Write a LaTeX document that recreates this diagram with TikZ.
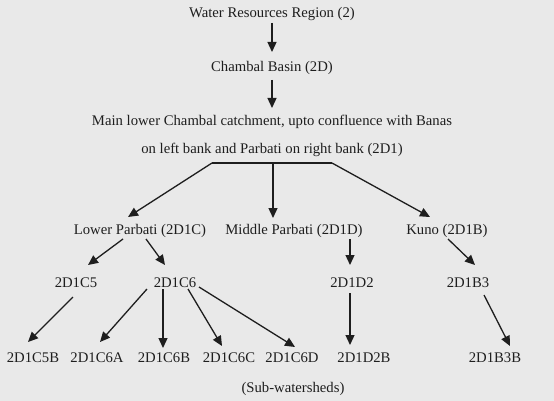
\documentclass[tikz,border=0pt]{standalone}
\usepackage{fontspec}
\setmainfont{Liberation Serif}
\usetikzlibrary{arrows.meta, positioning}

\definecolor{paper}{HTML}{E9E9E9}
\definecolor{ink}{HTML}{1E1E1E}

\begin{document}
\begin{tikzpicture}[x=1pt, y=-1pt, >={Triangle[length=10pt,width=9pt]}, line width=1.3pt, draw=ink,
  lbl/.style={font=\fontsize{14.7}{17}\selectfont, text=ink, inner sep=0pt}]
  % Hintergrund (Papier)
  \fill[paper] (0,0) rectangle (554,401);
  \useasboundingbox (0,0) rectangle (554,401);

  % Obere Ebenen
  \node[lbl] (wrr) at (272,14) {Water Resources Region (2)};
  \node[lbl] (basin) at (272,68) {Chambal Basin (2D)};
  \node[lbl, align=center] (main) at (272,136) {Main lower Chambal catchment, upto confluence with Banas\\[11pt]
    on left bank and Parbati on right bank (2D1)};
  \draw[->] ([shift={(0,9)}]wrr.center) -- ([shift={(0,-16)}]basin.center);
  \draw[->] ([shift={(0,12)}]basin.center) -- ([shift={(0,-28)}]main.center);

  % Zweite Ebene
  \node[lbl] (lower) at (140,231) {Lower Parbati (2D1C)};
  \node[lbl] (middle) at (294,231) {Middle Parbati (2D1D)};
  \node[lbl] (kuno) at (447,231) {Kuno (2D1B)};

  % Verzweigung unter dem Hauptknoten
  \coordinate (bl) at (212,163);
  \coordinate (bm) at (273,163);
  \coordinate (br) at (332,163);
  \draw (bl) -- (br);
  \draw[->] (bl) -- ([shift={(-12,-14)}]lower.center);
  \draw[->] (bm) -- (bm |- 0,218);
  \draw[->] (br) -- ([shift={(-17,-14)}]kuno.center);

  % Dritte Ebene
  \node[lbl] (c5) at (76,283) {2D1C5};
  \node[lbl] (c6) at (175,283) {2D1C6};
  \node[lbl] (d2) at (352,283) {2D1D2};
  \node[lbl] (b3) at (468,283) {2D1B3};
  \draw[->] ([shift={(-17,8)}]lower.center) -- ([shift={(12,-18)}]c5.center);
  \draw[->] ([shift={(6,8)}]lower.center) -- ([shift={(-10,-18)}]c6.center);
  \draw[->] ([shift={(56,8)}]middle.center) -- ([shift={(-2,-18)}]d2.center);
  \draw[->] ([shift={(1,8)}]kuno.center) -- ([shift={(7,-18)}]b3.center);

  % Sub-watersheds
  \node[lbl] (c5b) at (33,358) {2D1C5B};
  \node[lbl] (c6a) at (97,358) {2D1C6A};
  \node[lbl] (c6b) at (164,358) {2D1C6B};
  \node[lbl] (c6c) at (229,358) {2D1C6C};
  \node[lbl] (c6d) at (292,358) {2D1C6D};
  \node[lbl] (d2b) at (364,358) {2D1D2B};
  \node[lbl] (b3b) at (495,358) {2D1B3B};
  \draw[->] ([shift={(-3,14)}]c5.center) -- ([shift={(-5,-16)}]c5b.center);
  \draw[->] ([shift={(-28,6)}]c6.center) -- ([shift={(3,-16)}]c6a.center);
  \draw[->] ([shift={(-12,6)}]c6.center) -- ([shift={(-1,-10)}]c6b.center);
  \draw[->] ([shift={(13,6)}]c6.center) -- ([shift={(-7,-12)}]c6c.center);
  \draw[->] ([shift={(24,4)}]c6.center) -- ([shift={(3,-11)}]c6d.center);
  \draw[->] ([shift={(-2,10)}]d2.center) -- ([shift={(-14,-13)}]d2b.center);
  \draw[->] ([shift={(16,12)}]b3.center) -- ([shift={(15,-12)}]b3b.center);

  \node[lbl] (sub) at (293,389) {(Sub-watersheds)};
\end{tikzpicture}
\end{document}
